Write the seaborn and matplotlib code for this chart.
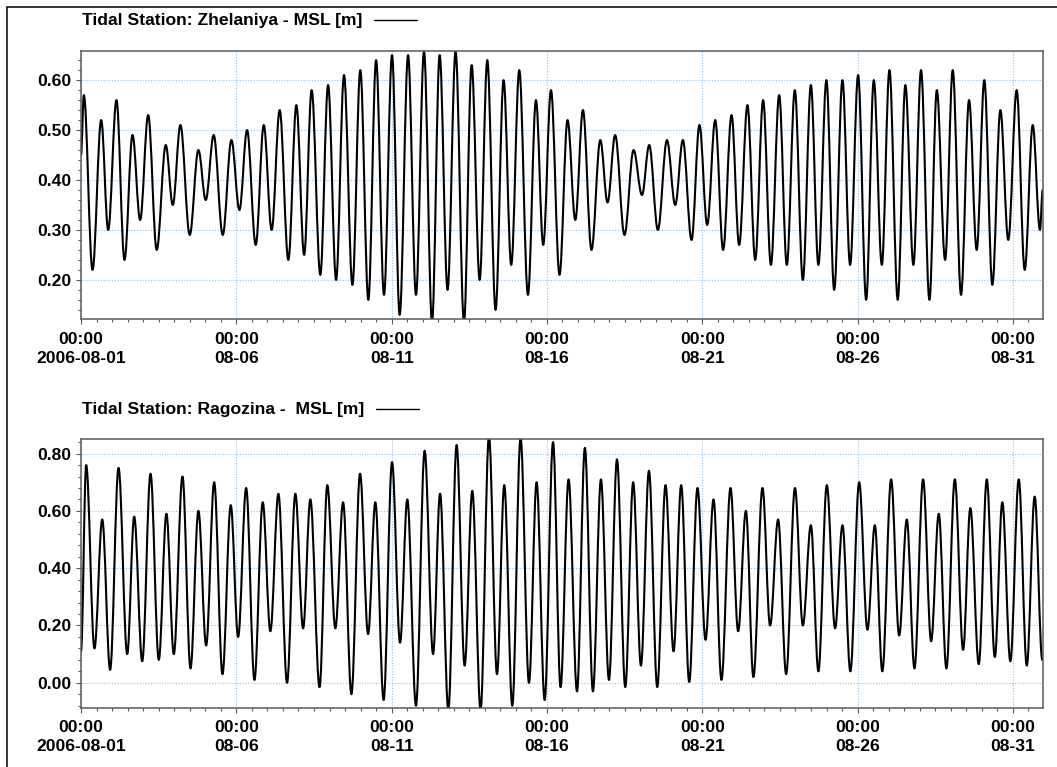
import pandas as pd
import matplotlib
matplotlib.use('Agg')
import matplotlib.pyplot as plt
import matplotlib.dates as mdates
from matplotlib.lines import Line2D
from matplotlib.path import Path
from matplotlib.patches import PathPatch
from matplotlib.ticker import MultipleLocator, FormatStrFormatter, FuncFormatter
import seaborn as sns

# ==========================================
# DATA: tidal turning points
# (hours after 2006-08-01 00:00, water level [m])
# ==========================================
start = pd.Timestamp('2006-08-01 00:00')

zhel_hours = [0.0, 2.2, 8.9, 15.6, 21.0, 27.4, 33.6, 39.8, 45.7, 51.9, 58.5, 65.5,
              70.9, 76.8, 84.0, 90.7, 96.4, 102.5, 109.5, 116.2, 122.4, 128.3, 135.0,
              141.2, 147.3, 153.5, 160.2, 166.4, 172.4, 178.2, 184.9, 190.9, 197.1,
              203.2, 209.7, 215.8, 222.0, 228.0, 234.1, 240.3, 246.2, 252.7, 258.8,
              265.0, 271.2, 277.1, 283.2, 289.4, 295.9, 301.8, 308.0, 313.9, 320.3,
              326.5, 332.4, 338.6, 345.3, 351.5, 357.1, 363.1, 369.7, 375.9, 381.9,
              387.8, 394.4, 401.2, 406.8, 412.7, 419.9, 426.9, 433.4, 439.0, 445.7,
              452.7, 459.1, 465.0, 471.7, 477.8, 483.8, 490.0, 496.1, 502.6, 508.5,
              514.9, 520.9, 527.0, 533.0, 539.4, 545.3, 551.5, 557.7, 563.9, 569.7,
              575.9, 581.9, 588.3, 594.2, 600.4, 606.6, 612.5, 618.7, 624.6, 631.0,
              636.9, 643.1, 649.0, 655.5, 661.2, 667.6, 673.5, 679.9, 686.1, 692.0,
              697.9, 704.1, 710.3, 716.4, 722.9, 729.1, 735.3, 740.9, 743.0]
zhel_msl = [0.45, 0.57, 0.22, 0.52, 0.30, 0.56, 0.24, 0.49, 0.32, 0.53, 0.26, 0.47,
            0.35, 0.51, 0.29, 0.46, 0.36, 0.49, 0.29, 0.48, 0.34, 0.50, 0.27,
            0.51, 0.30, 0.54, 0.24, 0.55, 0.25, 0.58, 0.21, 0.59, 0.20,
            0.61, 0.19, 0.62, 0.16, 0.64, 0.17, 0.65, 0.13, 0.65, 0.17,
            0.657, 0.115, 0.65, 0.18, 0.657, 0.115, 0.63, 0.20, 0.64, 0.14,
            0.60, 0.23, 0.62, 0.17, 0.56, 0.27, 0.58, 0.21, 0.52, 0.32,
            0.54, 0.26, 0.48, 0.355, 0.49, 0.29, 0.46, 0.37, 0.47, 0.30,
            0.48, 0.35, 0.48, 0.28, 0.51, 0.31, 0.52, 0.26, 0.53, 0.27,
            0.55, 0.24, 0.56, 0.23, 0.57, 0.23, 0.58, 0.20, 0.59, 0.23,
            0.60, 0.18, 0.60, 0.23, 0.61, 0.16, 0.60, 0.23, 0.62, 0.16,
            0.59, 0.23, 0.62, 0.16, 0.58, 0.24, 0.62, 0.17, 0.56, 0.26,
            0.60, 0.19, 0.54, 0.28, 0.58, 0.22, 0.51, 0.30, 0.38]

rago_hours = [0.0, 4.0, 10.4, 16.4, 22.5, 29.0, 35.7, 41.1, 47.3, 53.7, 60.1, 66.0,
              71.7, 78.4, 84.6, 90.7, 96.7, 102.9, 109.3, 115.7, 121.4, 127.6, 134.0,
              140.4, 146.3, 152.5, 159.2, 165.6, 171.6, 177.2, 184.3, 190.3, 196.5,
              202.5, 208.9, 215.6, 221.8, 227.4, 233.8, 240.3, 246.5, 252.1, 258.8,
              265.5, 272.0, 277.4, 283.8, 290.2, 296.4, 302.3, 308.7, 315.2, 321.4,
              327.0, 333.2, 339.6, 346.1, 352.0, 358.2, 364.7, 370.5, 376.7, 383.2,
              389.3, 395.5, 401.7, 407.9, 414.1, 420.5, 426.6, 432.6, 438.8, 445.2,
              451.6, 457.8, 463.7, 469.9, 476.3, 482.5, 488.7, 494.8, 501.8, 507.7,
              513.7, 519.5, 526.5, 532.4, 538.6, 544.8, 551.6, 557.7, 563.9, 569.7,
              576.2, 582.6, 588.3, 594.4, 601.2, 607.6, 613.3, 619.1, 625.9, 632.1,
              638.0, 643.9, 650.6, 656.8, 662.7, 668.6, 675.1, 681.5, 687.1, 693.6,
              699.8, 706.0, 711.8, 718.0, 724.5, 730.7, 736.8, 742.7]
rago_msl = [0.11, 0.76, 0.12, 0.57, 0.045, 0.75, 0.10, 0.58, 0.075, 0.73, 0.08, 0.59,
            0.10, 0.72, 0.05, 0.60, 0.13, 0.70, 0.03, 0.62, 0.16, 0.68, 0.01,
            0.63, 0.18, 0.66, 0.00, 0.66, 0.19, 0.64, -0.015, 0.69, 0.19,
            0.63, -0.04, 0.73, 0.17, 0.63, -0.06, 0.77, 0.14, 0.64, -0.08,
            0.81, 0.10, 0.66, -0.095, 0.83, 0.06, 0.67, -0.095, 0.86, 0.03,
            0.69, -0.08, 0.855, 0.00, 0.70, -0.06, 0.84, -0.015, 0.71, -0.03,
            0.82, -0.03, 0.71, 0.01, 0.78, -0.015, 0.70, 0.06, 0.74, -0.015,
            0.69, 0.11, 0.69, 0.003, 0.68, 0.15, 0.64, 0.01, 0.68, 0.18,
            0.60, 0.02, 0.68, 0.20, 0.57, 0.03, 0.68, 0.20, 0.55, 0.04,
            0.69, 0.19, 0.55, 0.04, 0.70, 0.185, 0.55, 0.04, 0.71, 0.165,
            0.57, 0.05, 0.71, 0.145, 0.59, 0.05, 0.71, 0.115, 0.61, 0.065,
            0.71, 0.09, 0.63, 0.075, 0.71, 0.06, 0.65, 0.08]

titles = ['Tidal Station: Zhelaniya - MSL [m]', 'Tidal Station: Ragozina -  MSL [m]']


def to_frame(hours, msl):
    return pd.DataFrame({'time': start + pd.to_timedelta(hours, unit='h'), 'msl': msl})


frames = [to_frame(zhel_hours, zhel_msl), to_frame(rago_hours, rago_msl)]

# ==========================================
# STYLE
# ==========================================
sns.set_theme(style='white')
plt.rcParams['font.family'] = ['Liberation Sans', 'DejaVu Sans']
plt.rcParams['font.weight'] = 'bold'

W, H = 1057, 767
FS = 12.6
SPINE = '#5a5a5a'
GRID = '#8cc2f2'
LW = 1.5

fig = plt.figure(figsize=(W / 100, H / 100), dpi=100)

# panel boxes in pixels: left, top, right, bottom
boxes = [(81, 50.7, 1042.7, 319.3), (81, 439.3, 1042.7, 707.7)]
ylims = [(0.121, 0.659), (-0.087, 0.85)]
ymajor = [0.1, 0.2]
yminor = [0.02, 0.04]
xlim = (start, start + pd.Timedelta(hours=743))


def date_label(x, pos):
    d = mdates.num2date(x)
    if d.day == 1 and d.month == 8:
        return d.strftime('%H:%M\n%Y-%m-%d')
    return d.strftime('%H:%M\n%m-%d')


def smooth_tide(ax, line):
    # redraw seaborn's turning-point polyline as a rounded tidal curve:
    # cubic segments with flat tangents at each high / low water
    xs = line.get_xdata()
    if not isinstance(xs[0], float):
        xs = mdates.date2num(pd.to_datetime(xs))
    ys = line.get_ydata()
    verts = [(xs[0], ys[0])]
    codes = [Path.MOVETO]
    for j in range(1, len(xs)):
        dx = (xs[j] - xs[j - 1]) * 0.36
        verts += [(xs[j - 1] + dx, ys[j - 1]), (xs[j] - dx, ys[j]), (xs[j], ys[j])]
        codes += [Path.CURVE4] * 3
    patch = PathPatch(Path(verts, codes), facecolor='none', edgecolor='black',
                      linewidth=LW, capstyle='round', joinstyle='round', zorder=3)
    ax.add_patch(patch)
    line.set_visible(False)


for i, df in enumerate(frames):
    l, t, r, b = boxes[i]
    ax = fig.add_axes([l / W, 1 - b / H, (r - l) / W, (b - t) / H])
    sns.lineplot(data=df, x='time', y='msl', ax=ax, color='black', linewidth=LW,
                 sort=False, estimator=None)
    ax.set_xlim(xlim)
    ax.set_ylim(*ylims[i])
    smooth_tide(ax, ax.lines[0])
    ax.set_xlabel('')
    ax.set_ylabel('')

    ax.xaxis.set_major_locator(mdates.DayLocator(bymonthday=[1, 6, 11, 16, 21, 26, 31]))
    ax.xaxis.set_minor_locator(mdates.HourLocator(byhour=[0, 12]))
    ax.xaxis.set_major_formatter(FuncFormatter(date_label))
    ax.yaxis.set_major_locator(MultipleLocator(ymajor[i]))
    ax.yaxis.set_minor_locator(MultipleLocator(yminor[i]))
    ax.yaxis.set_major_formatter(FormatStrFormatter('%.2f'))

    ax.grid(True, which='major', color=GRID, linestyle=(0, (1, 1.5)), linewidth=0.8)
    ax.tick_params(which='major', direction='out', length=3.6, width=0.8, color=SPINE,
                   labelsize=FS, pad=3.5, bottom=True, left=True, labelcolor='black')
    ax.tick_params(axis='x', which='major', pad=5.5)
    ax.tick_params(which='minor', direction='out', length=2.4, width=0.8, color=SPINE,
                   bottom=True, left=True)
    for lab in ax.get_xticklabels():
        lab.set_fontweight('bold')
        lab.set_linespacing(1.3)
    for lab in ax.get_yticklabels():
        lab.set_fontweight('bold')
    for sp in ax.spines.values():
        sp.set_color(SPINE)
        sp.set_linewidth(1.1)
        sp.set_visible(True)
        sp.set_zorder(4)

# station captions with a legend-style line sample
caption_base = [25.3, 414.0]
texts = []
for i, title in enumerate(titles):
    texts.append(fig.text(82 / W, 1 - caption_base[i] / H, title, fontsize=FS,
                          fontweight='bold', ha='left', va='baseline', color='black'))

fig.canvas.draw()
renderer = fig.canvas.get_renderer()
for i, txt in enumerate(texts):
    bb = txt.get_window_extent(renderer)
    x0 = bb.x1 + 12
    x1 = x0 + 43
    y = H - (caption_base[i] - 5.5)
    fig.add_artist(Line2D([x0 / W, x1 / W], [y / H, y / H], transform=fig.transFigure,
                          color='black', linewidth=1.0))

# outer frame (top and left edges visible)
fig.add_artist(Line2D([7 / W, 7 / W], [0, 1 - 7 / H], transform=fig.transFigure,
                      color='black', linewidth=1.1))
fig.add_artist(Line2D([7 / W, 1], [1 - 7 / H, 1 - 7 / H], transform=fig.transFigure,
                      color='black', linewidth=1.1))

fig.savefig('out.png', dpi=100)
